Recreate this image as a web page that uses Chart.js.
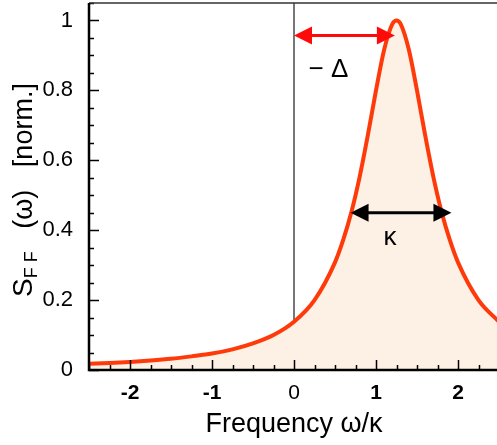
<!DOCTYPE html>
<html>
<head>
<meta charset="utf-8">
<script src="https://cdn.jsdelivr.net/npm/chart.js@4/dist/chart.umd.min.js"></script>
<style>
  html, body { margin: 0; padding: 0; background: #fff; overflow: hidden; }
  #wrap { width: 500px; height: 445px; }
</style>
</head>
<body>
<div id="wrap"><canvas id="chartSff"></canvas></div>
<script>
// valeurs (spectre normalisé)
const freq = [-2.5, -2.25, -2, -1.75, -1.5, -1.25, -1, -0.75, -0.5, -0.25, 0, 0.25, 0.5, 0.6, 0.7, 0.8, 0.9, 1.0, 1.1, 1.2, 1.25, 1.3, 1.4, 1.5, 1.6, 1.7, 1.8, 1.9, 2.0, 2.25, 2.5];
const sff  = [0.018, 0.020, 0.023, 0.027, 0.032, 0.039, 0.047, 0.059, 0.076, 0.100, 0.138, 0.200, 0.308, 0.372, 0.452, 0.552, 0.671, 0.800, 0.917, 0.990, 1.000, 0.990, 0.917, 0.800, 0.671, 0.552, 0.452, 0.372, 0.308, 0.200, 0.138];

const xTicks = [-2, -1, 0, 1, 2];
const yTicks = [0, 0.2, 0.4, 0.6, 0.8, 1];
const yTickLabels = ['0', '0.2', '0.4', '0.6', '0.8', '1'];

// flèches annotées (unités des axes)
const deltaArrow = { x0: 0, x1: 1.23, y: 0.957, label: '\u2212 \u0394', lx: 0.42, ly: 0.86 };
const kappaArrow = { x0: 0.69, x1: 1.92, y: 0.45, label: '\u03ba', lx: 1.17, ly: 0.378 };

const FONT = "'Liberation Sans', Arial, sans-serif";

function arrowHead(ctx, tipX, tipY, dir, len, half) {
    ctx.beginPath();
    ctx.moveTo(tipX, tipY);
    ctx.lineTo(tipX - dir * len, tipY - half);
    ctx.lineTo(tipX - dir * len, tipY + half);
    ctx.closePath();
    ctx.fill();
}

function drawArrow(ctx, xs, ys, a, color) {
    const px0 = xs.getPixelForValue(a.x0), px1 = xs.getPixelForValue(a.x1);
    const py = ys.getPixelForValue(a.y);
    ctx.strokeStyle = color; ctx.fillStyle = color; ctx.lineWidth = 3;
    ctx.beginPath(); ctx.moveTo(px0 + 10, py); ctx.lineTo(px1 - 10, py); ctx.stroke();
    arrowHead(ctx, px0, py, -1, 18, 9);
    arrowHead(ctx, px1, py, 1, 18, 9);
    ctx.fillStyle = '#000';
    ctx.font = '26px ' + FONT;
    ctx.textAlign = 'center'; ctx.textBaseline = 'middle';
    ctx.fillText(a.label, xs.getPixelForValue(a.lx), ys.getPixelForValue(a.ly));
}

// cadre, graduations internes, ligne verticale en 0, flèches, titre y
const decorPlugin = {
    id: 'decor',
    beforeDatasetsDraw(chart) {
        const { ctx, chartArea: ca, scales: { x } } = chart;
        ctx.save();
        // ligne verticale ω = 0
        ctx.strokeStyle = '#777'; ctx.lineWidth = 2;
        const x0 = Math.round(x.getPixelForValue(0));
        ctx.beginPath(); ctx.moveTo(x0, ca.top); ctx.lineTo(x0, ca.bottom); ctx.stroke();
        ctx.restore();
    },
    afterDatasetsDraw(chart) {
        const { ctx, chartArea: ca, scales: { x, y } } = chart;
        ctx.save();
        ctx.strokeStyle = '#000'; ctx.lineWidth = 1.5;
        // graduations x (mineures tous les 0.25)
        for (let v = -2.5; v <= 2.5001; v += 0.25) {
            const px = Math.round(x.getPixelForValue(v)) + 0.5;
            const major = Math.abs(v - Math.round(v)) < 1e-6;
            ctx.beginPath(); ctx.moveTo(px, ca.bottom); ctx.lineTo(px, ca.bottom - (major ? 10 : 5)); ctx.stroke();
        }
        // graduations y (mineures tous les 0.05)
        for (let i = 0; i <= 21; i++) {
            const v = i * 0.05;
            const py = Math.round(y.getPixelForValue(v)) + 0.5;
            const major = i % 4 === 0;
            ctx.beginPath(); ctx.moveTo(ca.left, py); ctx.lineTo(ca.left + (major ? 10 : 5), py); ctx.stroke();
        }
        // cadre
        ctx.strokeStyle = '#333'; ctx.lineWidth = 1.5;
        ctx.beginPath(); ctx.moveTo(ca.left, ca.top); ctx.lineTo(ca.right, ca.top); ctx.stroke();
        ctx.strokeStyle = '#000'; ctx.lineWidth = 2.5;
        ctx.beginPath(); ctx.moveTo(ca.left, ca.top); ctx.lineTo(ca.left, ca.bottom); ctx.lineTo(ca.right, ca.bottom); ctx.stroke();

        drawArrow(ctx, x, y, deltaArrow, '#ff0a0a');
        drawArrow(ctx, x, y, kappaArrow, '#000');

        // titre axe y : S_FF (ω) [norm.]
        const parts = [
            { t: 'S', size: 28, dy: 0 },
            { t: 'F F', size: 18, dy: 5 },
            { t: '   (\u03c9)   [norm.]', size: 27, dy: 0 }
        ];
        let total = 0;
        parts.forEach(p => { ctx.font = p.size + 'px ' + FONT; p.w = ctx.measureText(p.t).width; total += p.w; });
        ctx.translate(32, 190);
        ctx.rotate(-Math.PI / 2);
        ctx.fillStyle = '#000'; ctx.textAlign = 'left'; ctx.textBaseline = 'alphabetic';
        let cx = -total / 2;
        parts.forEach(p => { ctx.font = p.size + 'px ' + FONT; ctx.fillText(p.t, cx, p.dy); cx += p.w; });
        ctx.restore();
    }
};

new Chart(document.getElementById('chartSff').getContext('2d'), {
    type: 'line',
    data: {
        datasets: [{
            data: freq.map((f, i) => ({ x: f, y: sff[i] })),
            borderColor: '#ff3a0a',
            borderWidth: 4,
            backgroundColor: '#fdf0e4',
            fill: 'origin',
            pointRadius: 0,
            cubicInterpolationMode: 'monotone',
        }]
    },
    options: {
        responsive: true,
        maintainAspectRatio: false,
        animation: false,
        layout: { padding: { top: 3, right: 1, left: 0, bottom: 0 } },
        plugins: { legend: { display: false }, tooltip: { enabled: false } },
        scales: {
            x: {
                type: 'linear', min: -2.5, max: 2.5,
                afterBuildTicks: s => { s.ticks = xTicks.map(v => ({ value: v })); },
                afterFit: s => { s.height = 75; s.paddingLeft = 0; s.paddingRight = 0; },
                grid: { display: false }, border: { display: false },
                ticks: {
                    padding: 3, color: '#000',
                    font: c => ({ family: FONT, size: 21, weight: c.tick && c.tick.value === 0 ? 'normal' : 'bold' }),
                    callback: v => String(v),
                },
                title: { display: true, text: 'Frequency \u03c9/\u03ba', color: '#000', font: { family: FONT, size: 27 }, padding: { top: 12 } }
            },
            y: {
                type: 'linear', min: 0, max: 1.05,
                afterBuildTicks: s => { s.ticks = yTicks.map(v => ({ value: v })); },
                afterFit: s => { s.width = 89; s.paddingTop = 0; s.paddingBottom = 0; },
                grid: { display: false }, border: { display: false },
                ticks: {
                    padding: 8, color: '#000',
                    font: { family: FONT, size: 22 },
                    callback: (v) => yTickLabels[yTicks.indexOf(v)] ?? '',
                }
            }
        }
    },
    plugins: [decorPlugin]
});
</script>
</body>
</html>
